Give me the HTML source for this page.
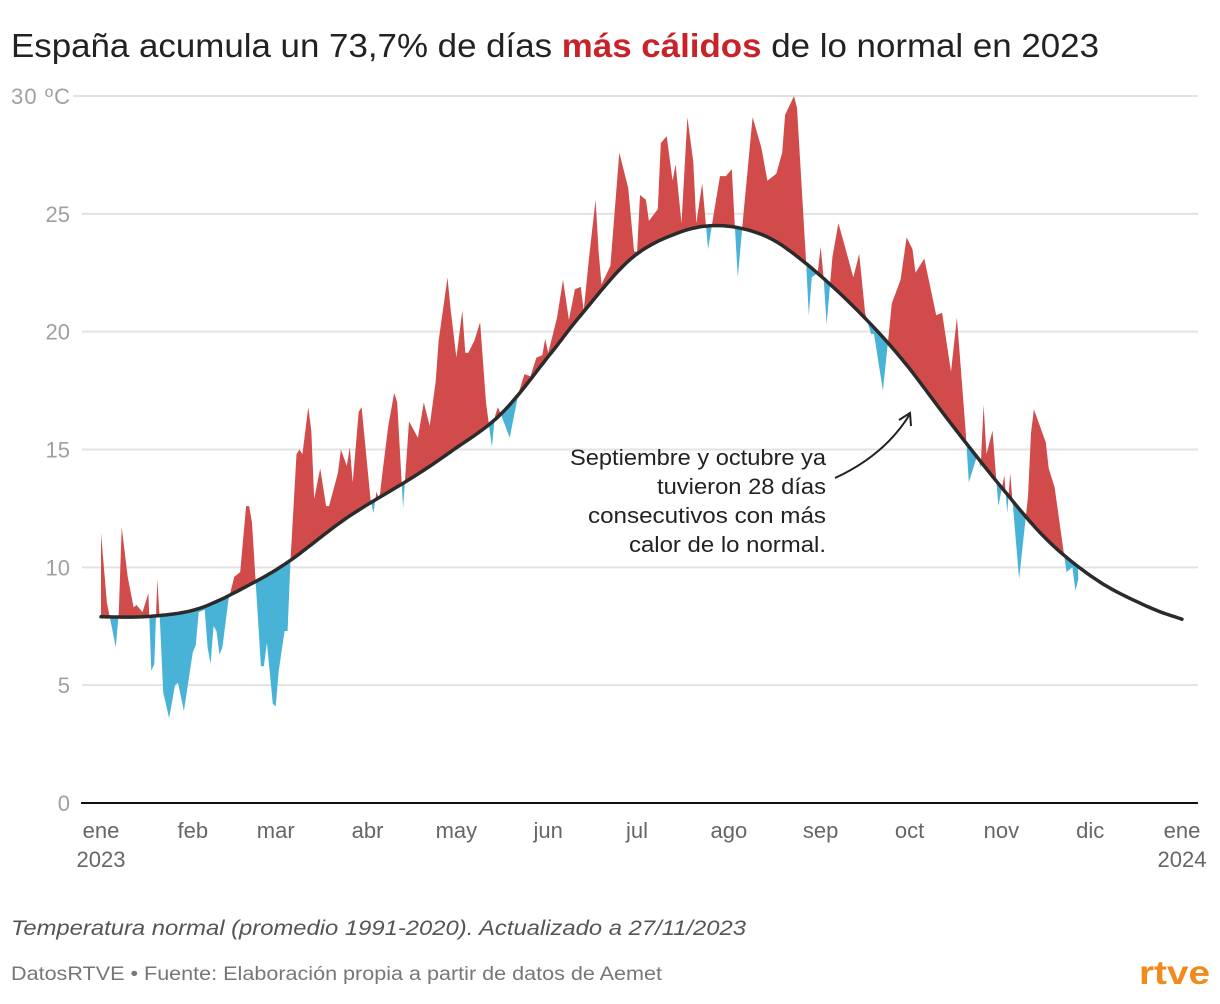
<!DOCTYPE html>
<html><head><meta charset="utf-8">
<style>
html,body{margin:0;padding:0;background:#fff;}
svg{display:block;font-family:"Liberation Sans",sans-serif;}
</style></head>
<body>
<svg id="chart" width="1220" height="1004" viewBox="0 0 1220 1004" xmlns="http://www.w3.org/2000/svg">
  <text x="11" y="57" font-size="33" fill="#222" textLength="1088" lengthAdjust="spacingAndGlyphs">España acumula un 73,7% de días <tspan font-weight="bold" fill="#c8222a">más cálidos</tspan> de lo normal en 2023</text>
  <g id="grid"></g>
  <g id="ylabels"></g>
  <defs>
    <clipPath id="clipAbove"><path id="clipAbovePath"/></clipPath>
    <clipPath id="clipBelow"><path id="clipBelowPath"/></clipPath>
  </defs>
  <path id="warmArea" fill="#d14b4b" clip-path="url(#clipAbove)"/>
  <path id="coldArea" fill="#49b3d7" clip-path="url(#clipBelow)"/>
  <path id="normalLine" fill="none" stroke="#2b2b2b" stroke-width="3.5" stroke-linecap="round"/>
  <line x1="81" y1="803" x2="1198" y2="803" stroke="#111" stroke-width="2"/>
  <g id="xlabels" font-size="22" fill="#666" text-anchor="middle"></g>
  <g font-size="22" fill="#222" text-anchor="end">
    <text x="826" y="465" textLength="256" lengthAdjust="spacingAndGlyphs">Septiembre y octubre ya</text>
    <text x="826" y="494" textLength="169" lengthAdjust="spacingAndGlyphs">tuvieron 28 días</text>
    <text x="826" y="523" textLength="238" lengthAdjust="spacingAndGlyphs">consecutivos con más</text>
    <text x="826" y="552" textLength="197" lengthAdjust="spacingAndGlyphs">calor de lo normal.</text>
  </g>
  <path d="M835,478 Q885,455 910,414" fill="none" stroke="#222" stroke-width="2"/>
  <path d="M899,420 L910,413 L911,426" fill="none" stroke="#222" stroke-width="2"/>
  <text x="11" y="935" font-size="21.5" font-style="italic" fill="#555" textLength="735" lengthAdjust="spacingAndGlyphs">Temperatura normal (promedio 1991-2020). Actualizado a 27/11/2023</text>
  <text x="11" y="980" font-size="19" fill="#777" textLength="651" lengthAdjust="spacingAndGlyphs">DatosRTVE • Fuente: Elaboración propia a partir de datos de Aemet</text>
  <text x="1139" y="984" font-size="33" font-weight="bold" fill="#f08a1c" textLength="71" lengthAdjust="spacingAndGlyphs">rtve</text>
</svg>
<script>
// Observed daily temperature (day of year, °C)
const obsDays = [0,2,5,6,7,9,11,12,14,16,17,18,19,20,21,23,25,26,28,31,32,33,35,36,37,38,39,40,41,43,45,47,49,50,51,54,55,56,58,59,60,62,63,64,66,67,68,70,71,72,74,76,77,80,81,83,84,85,87,88,91,92,93,94,95,97,99,100,102,104,107,109,111,113,114,117,118,120,122,123,124,126,128,130,132,133,134,135,138,141,143,145,147,149,150,151,154,156,158,160,162,163,165,167,168,169,172,175,178,180,181,182,184,185,188,189,191,193,194,196,198,200,201,203,205,207,209,211,213,214,215,217,220,223,225,228,230,231,234,235,238,239,240,242,243,244,245,247,249,251,254,256,258,260,261,264,266,267,270,272,274,275,276,278,282,284,287,289,292,293,296,297,298,299,301,302,303,305,306,307,310,313,314,315,319,320,322,325,326,328,329,330];
const obsTemps = [11.45,8.5,6.6,8.1,11.7,9.6,8.3,8.4,8.1,8.9,5.6,5.9,9.5,7.5,4.7,3.6,5.0,5.1,3.9,6.4,6.7,8.1,8.2,6.6,5.9,7.5,7.3,6.3,6.6,8.6,9.6,9.8,12.6,12.6,11.9,5.8,5.8,6.8,4.2,4.1,5.6,7.3,7.3,10.3,14.8,15.0,14.8,16.8,15.8,12.9,14.2,12.6,12.6,14.0,15.0,14.3,15.1,13.6,16.6,16.8,12.9,12.3,13.2,12.9,14.0,16.0,17.4,17.0,12.5,16.2,15.5,17.0,16.0,17.9,19.6,22.3,21.0,18.9,20.9,19.1,19.1,19.6,20.4,17.0,15.1,16.4,16.8,16.5,15.5,17.4,18.2,18.1,18.9,19.0,19.7,19.1,20.6,22.2,20.5,21.8,21.9,20.9,23.4,25.6,23.4,22.0,22.8,27.6,26.1,23.4,23.4,25.8,25.6,24.7,25.2,28.0,28.3,26.4,27.1,24.6,29.1,27.2,24.6,26.3,23.5,25.1,26.6,26.6,26.9,24.5,22.3,25.1,29.1,27.8,26.4,26.7,27.6,29.2,30.0,29.5,23.1,20.7,22.3,22.5,23.6,22.3,20.3,23.2,24.6,23.7,22.3,23.3,20.8,19.9,19.9,17.5,19.9,21.2,22.2,24.0,23.5,22.5,22.7,23.1,20.7,20.8,18.3,20.6,15.7,13.6,14.8,14.2,16.9,14.8,15.8,14.2,12.6,13.9,12.3,14.0,9.5,13.0,15.7,16.7,15.3,14.2,13.4,10.7,9.8,10.0,9.0,9.5];
// Normal temperature 1991-2020 (day of year, °C)
const normDays = [0,16.5,33,50,64,83,105,118,135,152,162,179,195,209,223.5,236,253,270,287,304,320,337,354,365];
const normTemps = [7.9,7.92,8.25,9.25,10.3,12.1,13.8,14.9,16.5,19.1,20.7,23.1,24.2,24.5,24.1,23.1,21.2,18.9,16.1,13.4,11.1,9.4,8.3,7.8];
const yTicks = [0,5,10,15,20,25,30];
const yTickLabels = ["0","5","10","15","20","25","30 ºC"];
const monthDays = [0,31,59,90,120,151,181,212,243,273,304,334,365];
const monthLabels = ["ene","feb","mar","abr","may","jun","jul","ago","sep","oct","nov","dic","ene"];

const X0=101, X1=1182, Y0=803, Y30=96;
const xs = d => X0 + d*(X1-X0)/365;
const ys = t => Y0 - t*(Y0-Y30)/30;
const NS="http://www.w3.org/2000/svg";

const grid=document.getElementById('grid');
const yl=document.getElementById('ylabels');
yTicks.forEach((t,i)=>{
  if(t>0){
    const l=document.createElementNS(NS,'line');
    
    
    l.setAttribute('x1', t===30?73:82); l.setAttribute('x2',1198);
    l.setAttribute('y1',ys(t)); l.setAttribute('y2',ys(t));
    l.setAttribute('stroke','#e3e3e3'); l.setAttribute('stroke-width','2');
    grid.appendChild(l);
  }
  const tx=document.createElementNS(NS,'text');
  
  
  if(t===30){tx.setAttribute('x',11);tx.setAttribute('textLength','59');}else{tx.setAttribute('x',70);tx.setAttribute('text-anchor','end');}
  tx.setAttribute('y',ys(t)+8);
  tx.setAttribute('font-size','22'); tx.setAttribute('fill','#a0a0a0');
  tx.textContent=yTickLabels[i];
  yl.appendChild(tx);
});

const xl=document.getElementById('xlabels');
monthLabels.forEach((m,i)=>{
  const tx=document.createElementNS(NS,'text');
  
  
  const cx = xs(monthDays[i]);
  tx.setAttribute('x',cx); tx.setAttribute('y',838);
  tx.textContent=m; xl.appendChild(tx);
  if(i===0||i===12){
    const yr=document.createElementNS(NS,'text');
    
    
    yr.setAttribute('x',cx); yr.setAttribute('y',867);
    yr.textContent = i===0?'2023':'2024'; xl.appendChild(yr);
  }
});

function sampleCurve(){
  const P=normDays.map((d,i)=>[xs(d),ys(normTemps[i])]);
  const out=[];
  for(let i=0;i<P.length-1;i++){
    const p0=P[Math.max(0,i-1)],p1=P[i],p2=P[i+1],p3=P[Math.min(P.length-1,i+2)];
    for(let k=0;k<12;k++){
      const t=k/12,t2=t*t,t3=t2*t;
      const f=(a,b,c,d)=>0.5*((2*b)+(-a+c)*t+(2*a-5*b+4*c-d)*t2+(-a+3*b-3*c+d)*t3);
      out.push([f(p0[0],p1[0],p2[0],p3[0]),f(p0[1],p1[1],p2[1],p3[1])]);
    }
  }
  out.push(P[P.length-1]);
  return out;
}
const curve=sampleCurve();
const curveD='M'+curve.map(p=>p[0].toFixed(1)+','+p[1].toFixed(1)).join('L');
document.getElementById('normalLine').setAttribute('d',curveD);
document.getElementById('clipAbovePath').setAttribute('d',curveD+'L1220,0L0,0L0,'+curve[0][1].toFixed(1)+'Z');
document.getElementById('clipBelowPath').setAttribute('d',curveD+'L1220,1004L0,1004L0,'+curve[0][1].toFixed(1)+'Z');

const xEnd=xs(obsDays[obsDays.length-1]);
const seg=curve.filter(p=>p[0]<=xEnd+0.01);
const obsPts=obsDays.map((d,i)=>xs(d).toFixed(1)+','+ys(obsTemps[i]).toFixed(1));
let d='M'+obsPts.join('L');
for(let i=seg.length-1;i>=0;i--) d+='L'+seg[i][0].toFixed(1)+','+seg[i][1].toFixed(1);
d+='Z';
document.getElementById('warmArea').setAttribute('d',d);
document.getElementById('coldArea').setAttribute('d',d);
</script>
</body></html>
